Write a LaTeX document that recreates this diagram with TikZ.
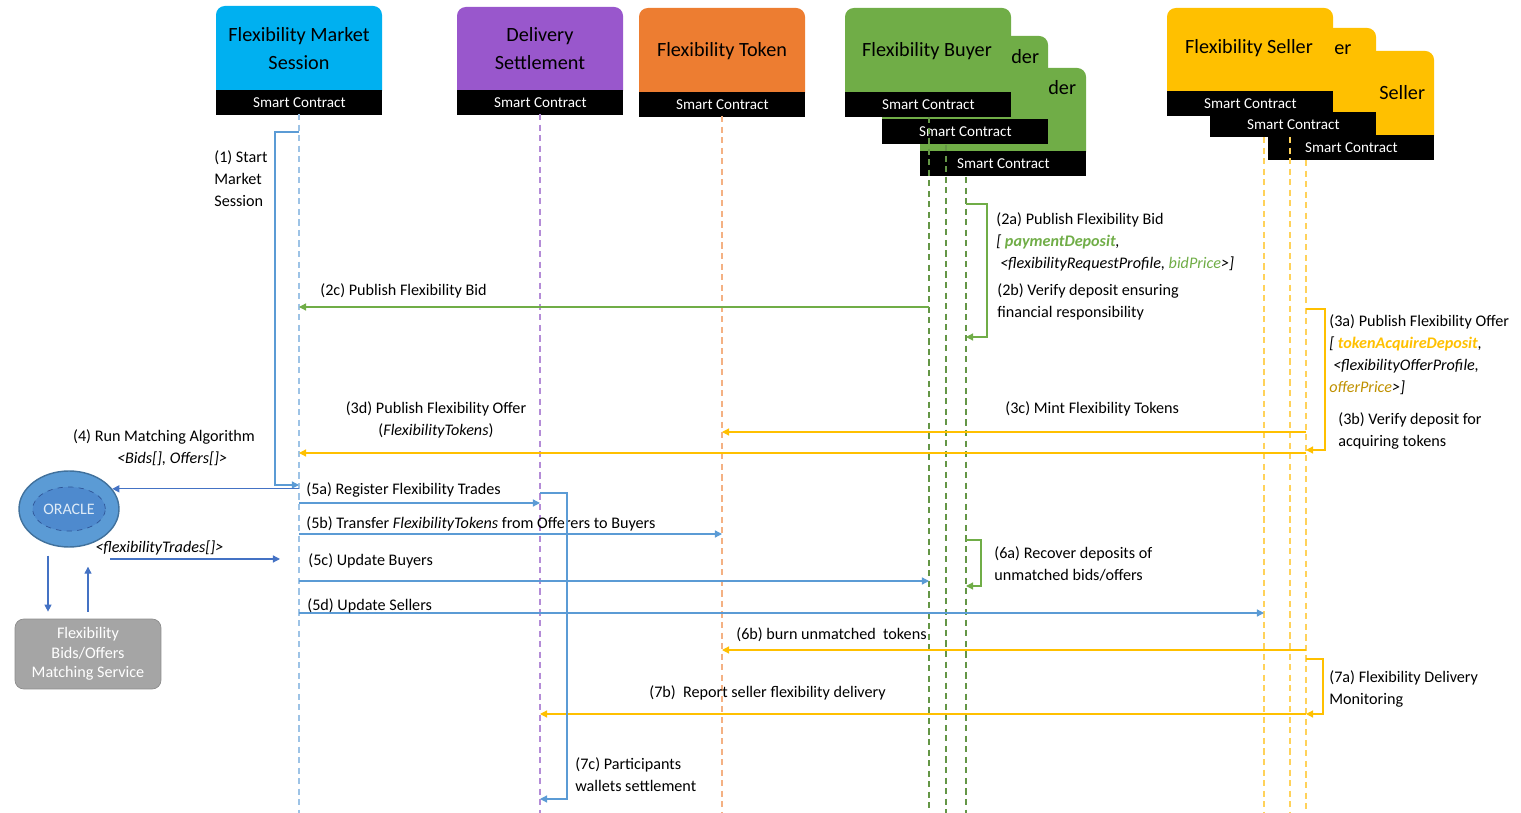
\documentclass[tikz,border=0pt]{standalone}
\usepackage{fontspec}
\setmainfont{Carlito}
\usetikzlibrary{arrows.meta,shapes.geometric,calc}

\definecolor{fmscol}{RGB}{0,176,240}
\definecolor{dscol}{RGB}{153,87,204}
\definecolor{ftcol}{RGB}{237,125,49}
\definecolor{buycol}{RGB}{112,173,71}
\definecolor{selcol}{RGB}{255,192,0}
\definecolor{offcol}{RGB}{191,144,0}
\definecolor{msgblue}{RGB}{91,155,213}
\definecolor{darkblue}{RGB}{68,114,196}
\definecolor{fmslife}{RGB}{157,195,230}
\definecolor{dslife}{RGB}{180,140,215}
\definecolor{ftlife}{RGB}{244,177,131}
\definecolor{buylife}{RGB}{100,150,70}
\definecolor{sellife}{RGB}{255,210,90}
\definecolor{oraclecol}{RGB}{91,155,213}
\definecolor{oraclein}{RGB}{78,138,206}
\definecolor{oracleedge}{RGB}{65,113,156}
\definecolor{oracledash}{RGB}{47,85,151}
\definecolor{svccol}{RGB}{165,165,165}

\tikzset{
  head/.style={font=\fontsize{11.5}{16}\selectfont, align=center, inner sep=0},
  bar/.style={fill=black, text=white, font=\fontsize{8.6}{10}\selectfont,
    minimum width=3.32cm, minimum height=0.5cm, inner sep=0, anchor=north west},
  lbl/.style={font=\fontsize{9.2}{12.5}\selectfont, align=left, inner sep=0, anchor=west},
  life/.style={dash pattern=on 3.5pt off 2.5pt, line width=0.6pt},
  msg/.style={-{Triangle[length=4pt,width=4pt]}, line width=0.7pt},
}

% contract box: [title anchor] name, left, top, bar top, colour, title position, title
\newcommand{\contractbox}[8][center]{%
  \fill[#6, rounded corners=5pt] (#3,#5+10) |- (#3+83,#4) -| (#3+166,#5+10) -- cycle;
  \node[head, anchor=#1] (#2T) at (#7) {#8};
  \node[bar] (#2) at (#3,#5) {Smart Contract};
}

\begin{document}
\begin{tikzpicture}[x=0.02cm,y=-0.02cm]
\useasboundingbox (0,0) rectangle (1521,813);

 % Contracts
\contractbox{fms}{216}{6}{90}{fmscol}{299,49}{Flexibility Market\\Session}
\contractbox{ds}{457}{7}{90}{dscol}{540,49}{Delivery\\Settlement}
\contractbox{ft}{639}{8}{92}{ftcol}{722,51}{Flexibility Token}

\contractbox[west]{buyC}{920}{68}{151}{buycol}{1048,88}{der}
\contractbox[west]{buyB}{882}{36}{119}{buycol}{1011,57}{der}
\contractbox{buyA}{845}{8}{92}{buycol}{927,51}{Flexibility Buyer}

\contractbox[west]{selC}{1268}{51}{135}{selcol}{1379,93}{Seller}
\contractbox[west]{selB}{1210}{28}{112}{selcol}{1334,50}{er}
\contractbox{selA}{1167}{8}{91}{selcol}{1249,48}{Flexibility Seller}

 % Lifelines
\coordinate (lfms) at (299,114);
\coordinate (lds) at (540,114);
\coordinate (lft) at (722,116);
\coordinate (lbA) at (929,117);
\coordinate (lbB) at (946,145);
\coordinate (lbC) at (966,177);
\coordinate (lsA) at (1264,137);
\coordinate (lsB) at (1290,137);
\coordinate (lsC) at (1306,160);

\draw[life, fmslife] (lfms) -- (lfms |- 0,813);
\draw[life, dslife] (lds) -- (lds |- 0,813);
\draw[life, ftlife] (lft) -- (lft |- 0,813);
\foreach \l in {lbA,lbB,lbC}
  \draw[life, buylife] (\l) -- (\l |- 0,813);
\foreach \l in {lsA,lsB,lsC}
  \draw[life, sellife] (\l) -- (\l |- 0,813);

 % Oracle and matching service
\node[ellipse, minimum width=2cm, minimum height=1.52cm, fill=oraclecol,
  draw=oracleedge, line width=0.8pt] (oracle) at (69,509) {};
\node[ellipse, minimum width=1.4cm, minimum height=0.88cm, inner sep=0,
  fill=oraclein, draw=oracledash, dashed, text={rgb,255:red,222;green,235;blue,247},
  font=\fontsize{9.1}{11}\selectfont] (oracletxt) at (oracle) {ORACLE};
\node[rounded corners=5pt, fill=svccol, draw=svccol!85!black, text=white,
  minimum width=2.92cm, minimum height=1.4cm, align=center, inner sep=0,
  font=\fontsize{9.2}{11.2}\selectfont] (svc) at (88,654)
  {Flexibility\\Bids/Offers\\Matching Service};

\coordinate (trA) at (110,559);
\coordinate (trB) at (280,559);

 % Messages
% (1)
\draw[msg, msgblue] (lfms |- 0,132) -- (275,132) -- (275,485) -- (lfms |- 0,485);
\node[lbl] (l1) at (214,179) {(1) Start\\Market\\Session};

% (2)
\draw[msg, buycol] (lbC |- 0,204) -- (987,204) -- (987,337) -- (lbC |- 0,337);
\node[lbl] (l2a) at (996,242) {(2a) Publish Flexibility Bid\\
  \textit{[ \textcolor{buycol}{\textbf{paymentDeposit}},}\\
  \textit{\ <flexibilityRequestProfile, \textcolor{buycol}{bidPrice}>]}};
\node[lbl] (l2b) at (997,302) {(2b) Verify deposit ensuring\\financial responsibility};
\draw[msg, buycol] (lbA |- 0,307) -- (lfms |- 0,307);
\node[lbl] (l2c) at (320,291) {(2c) Publish Flexibility Bid};

% (3)
\draw[msg, selcol] (lsC |- 0,309) -- (1325,309) -- (1325,450) -- (lsC |- 0,450);
\node[lbl] (l3a) at (1329,355) {(3a) Publish Flexibility Offer\\
  \textit{[ \textcolor{selcol}{\textbf{tokenAcquireDeposit}},}\\
  \textit{\ <flexibilityOfferProfile,}\\
  \textit{\textcolor{offcol}{offerPrice}>]}};
\node[lbl] (l3b) at (1338,431) {(3b) Verify deposit for\\acquiring tokens};
\draw[msg, selcol] (lsC |- 0,432) -- (lft |- 0,432);
\node[lbl] (l3c) at (1005,409) {(3c) Mint Flexibility Tokens};
\draw[msg, selcol] (lsC |- 0,453) -- (lfms |- 0,453);
\node[lbl, align=center, anchor=center] (l3d) at (436,420)
  {(3d) Publish Flexibility Offer\\(\textit{FlexibilityTokens})};

% (4)
\draw[msg, darkblue] (lfms |- oracle.25) -- (oracle.25);
\node[lbl, align=center, anchor=center] (l4) at (164,448)
  {(4) Run Matching Algorithm\\\quad\textit{<Bids[], Offers[]>}};
\draw[msg, darkblue] ($(oracle.south)+(-21,8)$) -- ($(svc.north)+(-40,-7)$);
\draw[msg, darkblue] ($(svc.north)+(0,-7)$) -- ($(oracle.south)+(19,19)$);
\draw[msg, darkblue] (trA) -- (trB);
\node[lbl] (ltr) at (95,548) {\textit{<flexibilityTrades[]>}};

% (5)
\draw[msg, msgblue] (lfms |- 0,503) -- (lds |- 0,503);
\node[lbl] (l5a) at (306,490) {(5a) Register Flexibility Trades};
\draw[msg, msgblue] (lfms |- 0,534) -- (lft |- 0,534);
\node[lbl] (l5b) at (306,524) {(5b) Transfer \textit{FlexibilityTokens} from Offerers to Buyers};
\draw[msg, msgblue] (lfms |- 0,581) -- (lbA |- 0,581);
\node[lbl] (l5c) at (308,561) {(5c) Update Buyers};
\draw[msg, msgblue] (lfms |- 0,613) -- (lsA |- 0,613);
\node[lbl] (l5d) at (307,606) {(5d) Update Sellers};

% (6)
\draw[msg, buycol] (lbC |- 0,540) -- (981,540) -- (981,586) -- (lbC |- 0,586);
\node[lbl] (l6a) at (994,564) {(6a) Recover deposits of\\unmatched bids/offers};
\draw[msg, selcol] (lsC |- 0,650) -- (lft |- 0,650);
\node[lbl] (l6b) at (736,635) {(6b) burn unmatched~ tokens};

% (7)
\draw[msg, selcol] (lsC |- 0,659) -- (1323,659) -- (1323,714) -- (lsC |- 0,714);
\node[lbl] (l7a) at (1329,689) {(7a) Flexibility Delivery\\Monitoring};
\draw[msg, selcol] (lsC |- 0,714) -- (lds |- 0,714);
\node[lbl] (l7b) at (649,693) {(7b)~ Report seller flexibility delivery};
\draw[msg, msgblue] (lds |- 0,493) -- (567,493) -- (567,799) -- (lds |- 0,799);
\node[lbl] (l7c) at (575,775) {(7c) Participants\\wallets settlement};

\end{tikzpicture}
\end{document}
